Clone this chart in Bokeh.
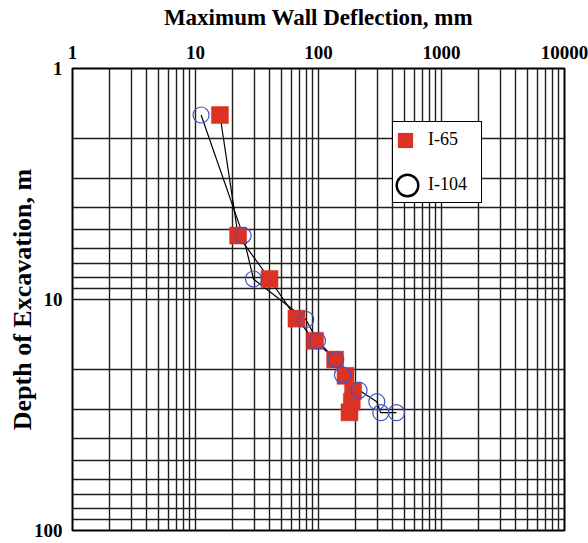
from bokeh.plotting import figure
from bokeh.models import (Range1d, FixedTicker, PrintfTickFormatter, Legend, LegendItem,
                          ColumnDataSource)
from bokeh.embed import file_html
from bokeh.resources import INLINE

# ---- data ----
i65_defl = [15.8, 22.2, 40.0, 66.2, 93.8, 136.5, 165.8, 191.1, 186.5, 178.6]
i65_depth = [1.59, 5.29, 8.15, 12.1, 15.1, 18.2, 21.4, 24.9, 27.7, 30.8]

i104_defl = [11.1, 24.4, 29.6, 78.8, 98.1, 138.2, 156.7, 213.8, 297.9, 321.0, 430.5]
i104_depth = [1.59, 5.29, 8.15, 12.2, 15.1, 18.2, 21.2, 24.7, 27.7, 30.9, 30.9]

x_major = [1, 10, 100, 1000, 10000]
y_major = [1, 10, 100]
x_minor = [m * 10 ** k for k in range(4) for m in range(2, 10)]
y_minor = [m * 10 ** k for k in range(2) for m in range(2, 10)]

RED = "#dc3226"
BLUE = "#3f54c4"
GRID = "#1e1e1e"
FONT = "Liberation Serif"

src65 = ColumnDataSource(data=dict(x=i65_defl, y=i65_depth))
src104 = ColumnDataSource(data=dict(x=i104_defl, y=i104_depth))

p = figure(width=588, height=543, x_axis_type="log", y_axis_type="log",
           x_range=Range1d(1, 10000), y_range=Range1d(100, 1),
           x_axis_location="above", output_backend="svg", toolbar_location=None,
           min_border_left=72, min_border_right=24, min_border_top=68, min_border_bottom=13)

p.background_fill_color = "white"
p.border_fill_color = "white"
p.outline_line_color = "black"
p.outline_line_width = 2

xa = p.xaxis[0]
xa.ticker = FixedTicker(ticks=x_major, minor_ticks=x_minor)
xa.formatter = PrintfTickFormatter(format="%d")
xa.axis_label = "Maximum Wall Deflection, mm"
xa.major_label_standoff = 10
xa.axis_label_standoff = 13

ya = p.yaxis[0]
ya.ticker = FixedTicker(ticks=y_major, minor_ticks=y_minor)
ya.formatter = PrintfTickFormatter(format="%d")
ya.axis_label = "Depth of Excavation, m"
ya.major_label_standoff = 10
ya.axis_label_standoff = -6

for ax in (xa, ya):
    ax.axis_line_color = None
    ax.major_tick_in = 0
    ax.major_tick_out = 0
    ax.minor_tick_in = 0
    ax.minor_tick_out = 0
    ax.major_label_text_font = FONT
    ax.major_label_text_font_style = "bold"
    ax.major_label_text_font_size = "19px"
    ax.major_label_text_color = "black"
    ax.axis_label_text_font = FONT
    ax.axis_label_text_font_style = "bold"
    ax.axis_label_text_color = "black"
xa.axis_label_text_font_size = "23px"
ya.axis_label_text_font_size = "26px"

for g in (p.xgrid[0], p.ygrid[0]):
    g.grid_line_color = GRID
    g.grid_line_width = 1.4
    g.grid_line_alpha = 1
    g.minor_grid_line_color = GRID
    g.minor_grid_line_width = 1.4
    g.minor_grid_line_alpha = 1

# ---- data marks ----
p.line("x", "y", source=src65, line_color="black", line_width=1.2)
p.line("x", "y", source=src104, line_color="black", line_width=1.2)
p.scatter("x", "y", source=src65, marker="square", size=17, fill_color=RED, line_color=RED, line_width=0.5)
p.scatter("x", "y", source=src104, marker="circle", size=16, fill_color=None, line_color=BLUE, line_width=1.2)

# ---- legend proxies: size 0 so nothing shows on the plot; legend sizes its own glyphs ----
r_blank = p.scatter("x", "y", source=src65, marker="square", size=0, fill_alpha=0, line_alpha=0)
r_sq = p.scatter("x", "y", source=src65, marker="square", size=0, fill_color=RED, line_color=None)
r_ci = p.scatter("x", "y", source=src104, marker="circle", size=0, fill_color=None,
                 line_color="black", line_width=2.4)

leg_box = Legend(items=[LegendItem(label="I-65", renderers=[r_blank]),
                        LegendItem(label="I-104", renderers=[r_blank])],
                 location=(320, 327), orientation="vertical", padding=0, spacing=10,
                 glyph_width=25, glyph_height=35, label_standoff=10, label_width=53, label_height=20,
                 border_line_color="black", border_line_width=1.5, border_line_alpha=1,
                 background_fill_color="white", background_fill_alpha=1,
                 label_text_font=FONT, label_text_font_size="18px", label_text_color="black",
                 margin=0)
p.add_layout(leg_box)

leg_sq = Legend(items=[LegendItem(label="", renderers=[r_sq])],
                location=(314, 371), padding=0, spacing=0, glyph_width=38, glyph_height=38,
                label_standoff=0, label_width=0, label_height=0, label_text_font_size="10px",
                border_line_color=None, background_fill_alpha=0, margin=0)
p.add_layout(leg_sq)

leg_ci = Legend(items=[LegendItem(label="", renderers=[r_ci])],
                location=(308, 318), padding=0, spacing=0, glyph_width=54, glyph_height=54,
                label_standoff=0, label_width=0, label_height=0, label_text_font_size="10px",
                border_line_color=None, background_fill_alpha=0, margin=0)
p.add_layout(leg_ci)

open("out.html", "w").write(file_html(p, INLINE))
